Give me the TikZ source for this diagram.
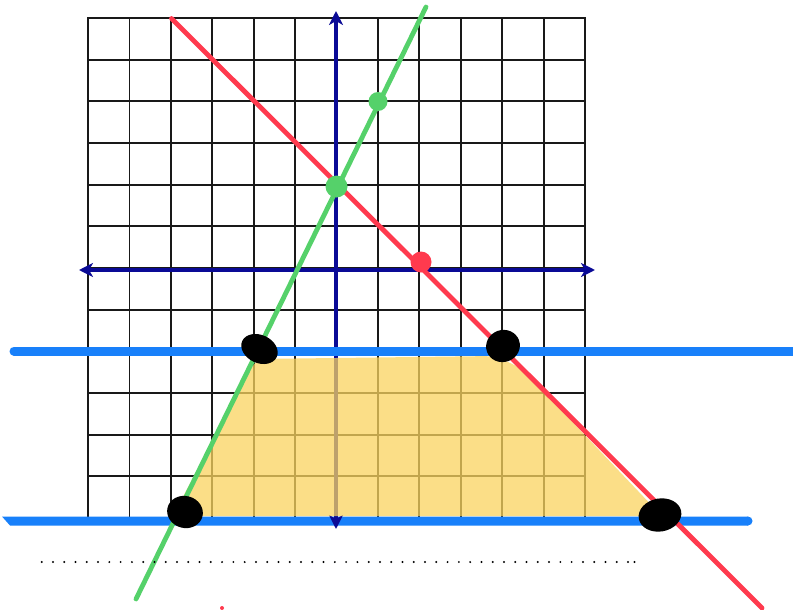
\documentclass[tikz,border=0pt]{standalone}
\usetikzlibrary{arrows.meta}
\definecolor{gridc}{RGB}{25,25,25}
\definecolor{axisc}{RGB}{10,10,150}
\definecolor{redl}{RGB}{255,58,78}
\definecolor{greenl}{RGB}{85,209,106}
\definecolor{bluel}{RGB}{24,128,250}
\definecolor{yell}{RGB}{250,212,95}
\tikzset{
  gridline/.style={gridc, line width=1.8pt, line cap=rect},
  axisline/.style={axisc, line width=3.2pt, {Stealth[length=14pt,width=14pt,inset=4pt]}-{Stealth[length=14pt,width=14pt,inset=4pt]}},
  blueline/.style={bluel, line width=9pt, line cap=round},
  redline/.style={redl, line width=4.8pt, line cap=round},
  greenline/.style={greenl, line width=4.8pt, line cap=round},
  shade/.style={fill=yell, opacity=0.75, rounded corners=10pt},
  blob/.style={fill=black},
  dotmark/.style={fill=black}
}
\begin{document}
\begin{tikzpicture}[x=1pt,y=-1pt]
\useasboundingbox (0,0) rectangle (793,610);
\fill[white] (0,0) rectangle (793,610);
% grid
\foreach \i in {0,...,12} {
  \draw[gridline] ({88+41.42*\i},18) -- ({88+41.42*\i},518);
  \draw[gridline] (88,{18+41.67*\i}) -- (585,{18+41.67*\i});
}
% lower blue line (slanted left end)
\fill[bluel] (2,516.5) -- (748,516.5) -- (748,525.5) -- (10,525.5) -- cycle;
\fill[bluel] (748,521) circle (4.5);
% axes
\coordinate (xl) at (79,270);
\coordinate (xr) at (595,270);
\coordinate (yt) at (336,11);
\coordinate (yb) at (336,529);
\draw[axisline] (xl) -- (xr);
\draw[axisline] (yb) -- (yt);
% upper blue line
\coordinate (bl1) at (14,351);
\coordinate (br1) at (793,351);
\draw[blueline] (bl1) -- (br1);
% shaded region
\fill[shade] (177,508) -- (256,359) -- (495,356) -- (521,368) -- (658,512) -- (650,516) -- (185,516) -- cycle;
% lines
\coordinate (r1) at (171.5,18.5);
\coordinate (r2) at (762,608);
\coordinate (g1) at (426,7);
\coordinate (g2) at (136,599);
\draw[redline] (r1) -- (r2);
\draw[greenline] (g1) -- (g2);
% points
\fill[greenl] (336.5,186.5) circle (11);
\fill[greenl] (378,101.5) circle (9.5);
\fill[redl] (421,262) circle (10.5);
% black blobs
\fill[blob, rotate around={-25:(259.5,349)}] (259.5,349) ellipse (19 and 14);
\fill[blob, rotate around={20:(503,346)}] (503,346) ellipse (17 and 16);
\fill[blob, rotate around={-15:(185,512)}] (185,512) ellipse (18 and 16);
\fill[blob, rotate around={10:(660,515)}] (660,515) ellipse (21.5 and 16.5);
% dotted line
\foreach \k in {0,...,52} {
  \fill[dotmark] ({41.7+11.275*\k},562) circle (1.1);
}
\fill[dotmark] (634.5,562) circle (1.1);
% tiny red mark
\fill[redl] (222,608) circle (2);
\end{tikzpicture}
\end{document}
